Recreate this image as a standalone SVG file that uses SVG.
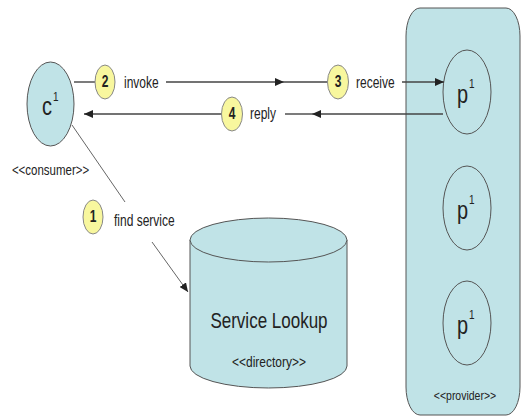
<svg xmlns="http://www.w3.org/2000/svg" width="522" height="416" viewBox="0 0 522 416">
<defs>
<style>
.shape{fill:#c0e3e7;stroke:#555;stroke-width:1}
.badge{fill:#f8f79e;stroke:#888;stroke-width:1}
.conn{fill:none;stroke:#444;stroke-width:1.4}
.thin{fill:none;stroke:#666;stroke-width:1}
text{font-family:"Liberation Sans",Arial,sans-serif;fill:#222}
.lbl{font-size:12px}
.num{font-size:12px;font-weight:bold;text-anchor:middle}
.big{font-size:20px}
.sup{font-size:10px}
.st{text-anchor:middle}
</style>
<marker id="ah" viewBox="0 0 9 8" refX="9" refY="4" markerWidth="9" markerHeight="8" markerUnits="userSpaceOnUse" orient="auto">
<path d="M0,0 L9,4 L0,8 Z" fill="#222"/>
</marker>
</defs>
<rect width="522" height="416" fill="#fff"/>

<g id="provider">
<rect class="shape" x="406" y="8" width="114" height="407" rx="14" ry="28" stroke="#666"/>
<text class="st" style="font-size:10.5px" transform="matrix(1 0 0 1.25 465 400)">&lt;&lt;provider&gt;&gt;</text>
</g>

<g id="p1a">
<ellipse class="shape" cx="467" cy="92" rx="24" ry="42"/>
<text class="big" transform="matrix(1 0 0 1.3 457 103)">p</text>
<text class="sup" transform="matrix(1 0 0 1.3 469 88)">1</text>
</g>
<g id="p1b">
<ellipse class="shape" cx="467" cy="208" rx="24" ry="42"/>
<text class="big" transform="matrix(1 0 0 1.3 457 219)">p</text>
<text class="sup" transform="matrix(1 0 0 1.3 469 204)">1</text>
</g>
<g id="p1c">
<ellipse class="shape" cx="467" cy="323" rx="24" ry="42"/>
<text class="big" transform="matrix(1 0 0 1.3 457 334)">p</text>
<text class="sup" transform="matrix(1 0 0 1.3 469 319)">1</text>
</g>

<g id="consumer">
<ellipse class="shape" cx="50.5" cy="104" rx="23.5" ry="42"/>
<text class="big" transform="matrix(1 0 0 1.3 42 115)">c</text>
<text class="sup" transform="matrix(1 0 0 1.3 53 101)">1</text>
<text class="st" style="font-size:11.5px" transform="matrix(1 0 0 1.25 50.5 175)">&lt;&lt;consumer&gt;&gt;</text>
</g>

<g id="directory">
<path class="shape" d="M190,240 L190,366 A78.5,22 0 0 0 347,366 L347,240"/>
<ellipse class="shape" cx="268.5" cy="240" rx="78.5" ry="22"/>
<text class="st" style="font-size:17px" transform="matrix(1 0 0 1.25 269 328)">Service Lookup</text>
<text class="st" style="font-size:12px" transform="matrix(1 0 0 1.25 269 367)">&lt;&lt;directory&gt;&gt;</text>
</g>

<g id="connectors">
<path class="conn" d="M74,82 L95,82"/>
<path class="conn" d="M166,82 L284,82" marker-end="url(#ah)"/>
<path class="conn" d="M284,82 L327,82"/>
<path class="conn" d="M402,82 L444,82" marker-end="url(#ah)"/>
<path class="conn" d="M443,114 L312,114" marker-end="url(#ah)"/>
<path class="conn" d="M312,114 L285,114"/>
<path class="conn" d="M222,114 L84,114" marker-end="url(#ah)"/>
<path class="thin" d="M72,125 L125,202"/>
<path class="thin" d="M152,242 L188,292" marker-end="url(#ah)"/>
</g>

<g id="step2">
<ellipse class="badge" cx="105" cy="82" rx="10" ry="17"/>
<text class="num" transform="matrix(1 0 0 1.3 105 87)">2</text>
<text class="lbl" transform="matrix(1 0 0 1.3 124 88)">invoke</text>
</g>
<g id="step3">
<ellipse class="badge" cx="338" cy="82" rx="10.5" ry="17"/>
<text class="num" transform="matrix(1 0 0 1.3 338 87)">3</text>
<text class="lbl" transform="matrix(1 0 0 1.3 356 88)">receive</text>
</g>
<g id="step4">
<ellipse class="badge" cx="232" cy="114" rx="10.5" ry="17"/>
<text class="num" transform="matrix(1 0 0 1.3 232 119)">4</text>
<text class="lbl" transform="matrix(1 0 0 1.3 250 119)">reply</text>
</g>
<g id="step1">
<ellipse class="badge" cx="93" cy="217" rx="10" ry="17"/>
<text class="num" transform="matrix(1 0 0 1.3 93 222)">1</text>
<text class="lbl" transform="matrix(1 0 0 1.3 114 226)">find service</text>
</g>
</svg>
